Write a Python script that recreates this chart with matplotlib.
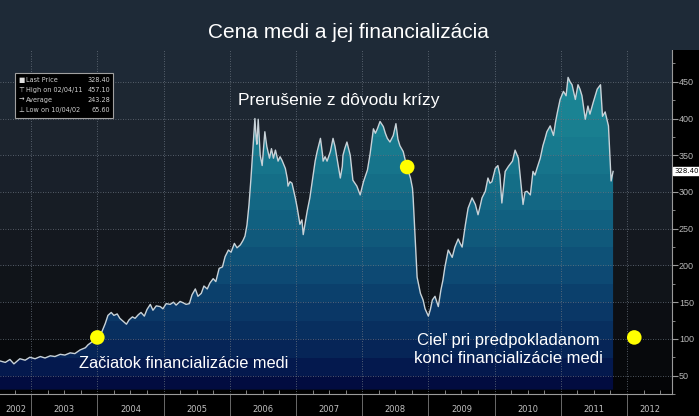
import numpy as np
import matplotlib
matplotlib.use("Agg")
import matplotlib.pyplot as plt
from matplotlib.colors import LinearSegmentedColormap
from matplotlib.patches import Polygon, Rectangle
from matplotlib.transforms import blended_transform_factory

plt.rcParams['font.family'] = ['Liberation Sans', 'DejaVu Sans']
NARROW = ['Liberation Sans Narrow', 'DejaVu Sans Condensed', 'DejaVu Sans']

# copper price (US cents / lb)
years = [2002.53, 2002.61, 2002.68, 2002.74, 2002.83, 2002.91, 2002.98, 2003.06, 2003.14, 2003.21,
         2003.29, 2003.36, 2003.44, 2003.51, 2003.59, 2003.66, 2003.74, 2003.82, 2003.86, 2003.92,
         2003.97, 2004.01, 2004.07, 2004.12, 2004.16, 2004.21, 2004.25, 2004.30, 2004.34, 2004.39,
         2004.44, 2004.48, 2004.53, 2004.57, 2004.62, 2004.66, 2004.71, 2004.75, 2004.80, 2004.84,
         2004.89, 2004.95, 2004.99, 2005.04, 2005.10, 2005.15, 2005.19, 2005.25, 2005.30, 2005.34,
         2005.39, 2005.43, 2005.48, 2005.52, 2005.57, 2005.61, 2005.66, 2005.70, 2005.75, 2005.79,
         2005.84, 2005.89, 2005.93, 2005.98, 2006.02, 2006.07, 2006.11, 2006.16, 2006.20, 2006.23,
         2006.26, 2006.29, 2006.32, 2006.35, 2006.38, 2006.40, 2006.41, 2006.43, 2006.46, 2006.49,
         2006.52, 2006.53, 2006.56, 2006.60, 2006.63, 2006.66, 2006.69, 2006.73, 2006.76, 2006.79,
         2006.84, 2006.87, 2006.88, 2006.91, 2006.94, 2006.99, 2007.02, 2007.06, 2007.09, 2007.11,
         2007.14, 2007.17, 2007.21, 2007.26, 2007.29, 2007.32, 2007.37, 2007.40, 2007.41, 2007.44,
         2007.47, 2007.52, 2007.56, 2007.59, 2007.62, 2007.67, 2007.70, 2007.71, 2007.74, 2007.77,
         2007.82, 2007.86, 2007.89, 2007.92, 2007.97, 2008.02, 2008.05, 2008.08, 2008.12, 2008.17,
         2008.20, 2008.23, 2008.27, 2008.32, 2008.35, 2008.38, 2008.42, 2008.47, 2008.51, 2008.54,
         2008.57, 2008.62, 2008.66, 2008.69, 2008.73, 2008.76, 2008.77, 2008.80, 2008.83, 2008.88,
         2008.92, 2008.95, 2009.00, 2009.03, 2009.06, 2009.10, 2009.15, 2009.19, 2009.22, 2009.25,
         2009.30, 2009.33, 2009.36, 2009.40, 2009.45, 2009.48, 2009.51, 2009.56, 2009.60, 2009.63,
         2009.66, 2009.71, 2009.75, 2009.78, 2009.81, 2009.86, 2009.90, 2009.93, 2009.96, 2010.01,
         2010.05, 2010.08, 2010.11, 2010.16, 2010.21, 2010.27, 2010.31, 2010.36, 2010.39, 2010.40,
         2010.43, 2010.46, 2010.49, 2010.54, 2010.58, 2010.61, 2010.64, 2010.69, 2010.73, 2010.76,
         2010.79, 2010.84, 2010.89, 2010.92, 2010.95, 2010.99, 2011.04, 2011.08, 2011.11, 2011.14,
         2011.17, 2011.22, 2011.26, 2011.29, 2011.32, 2011.37, 2011.41, 2011.44, 2011.49, 2011.55,
         2011.60, 2011.63, 2011.67, 2011.72, 2011.75, 2011.76, 2011.79]
prices = [70, 68, 72, 66, 73, 71, 75, 73, 76, 74,
          77, 76, 79, 78, 81, 80, 85, 88, 92, 96,
          100, 103, 110, 121, 132, 136, 132, 134, 128, 124,
          120, 126, 130, 128, 133, 136, 131, 140, 147, 139,
          145, 144, 141, 148, 147, 150, 146, 151, 149, 147,
          148, 160, 168, 158, 162, 172, 168, 176, 182, 178,
          196, 198, 212, 221, 218, 230, 224, 228, 234, 240,
          255, 282, 318, 360, 400, 372, 365, 399, 350, 336,
          370, 382, 362, 346, 359, 346, 357, 342, 348, 343,
          332, 318, 308, 314, 312, 292, 278, 256, 262, 242,
          258, 274, 292, 323, 342, 355, 373, 352, 342, 348,
          342, 355, 373, 362, 346, 319, 335, 350, 360, 368,
          350, 316, 312, 308, 296, 314, 322, 330, 352, 386,
          380, 386, 396, 389, 380, 373, 368, 377, 393, 372,
          363, 355, 340, 330, 319, 305, 292, 238, 184, 162,
          153, 141, 131, 140, 153, 158, 144, 167, 180, 198,
          221, 216, 211, 225, 236, 230, 225, 256, 278, 285,
          292, 283, 269, 280, 292, 301, 319, 312, 314, 332,
          336, 323, 285, 328, 335, 342, 357, 346, 319, 309,
          283, 300, 301, 296, 328, 323, 332, 346, 363, 372,
          382, 390, 377, 395, 409, 426, 437, 431, 456, 450,
          446, 426, 446, 440, 431, 399, 417, 406, 422, 440,
          446, 403, 409, 390, 332, 315, 328]

dot_years = [2004.0, 2008.68, 2012.11]
dot_prices = [102, 334, 102]

year_labels = list(range(2002, 2013))
y_ticks = [50, 100, 150, 200, 250, 300, 350, 400, 450]

legend_labels = ["Last Price", "High on 02/04/11", "Average", "Low on 10/04/02"]
legend_values = [328.40, 457.10, 243.28, 65.60]
legend_marks = ["\u25a0", "\u22a4", "\u2192", "\u22a5"]

x_lo, x_hi = 2002.53, 2012.68
y_lo, y_hi = 31, 496

fig = plt.figure(figsize=(6.99, 4.16), dpi=100, facecolor='black')
fig.patches.append(Rectangle((0, 0.88), 1, 0.12, transform=fig.transFigure,
                             facecolor='#1e2a37', edgecolor='none', zorder=0))
ax = fig.add_axes([0, 0.0529, 0.9614, 0.8317])
ax.set_facecolor('black')


def banded(cols, step):
    cmap = LinearSegmentedColormap.from_list('c', [((v - y_lo) / (y_hi - y_lo), c) for v, c in cols])
    yy = np.linspace(y_lo, y_hi, 800)
    band = np.floor(yy / step) * step + step / 2
    return cmap, np.tile(band[:, None], (1, 2))


bg_cmap, bg_img = banded([(31, '#040507'), (100, '#0a0c10'), (200, '#13171d'),
                          (300, '#191f28'), (400, '#1d2631'), (496, '#1f2b38')], 50)
ax.imshow(bg_img, extent=[x_lo, x_hi, y_lo, y_hi], origin='lower', aspect='auto',
          cmap=bg_cmap, vmin=y_lo, vmax=y_hi, interpolation='nearest', zorder=0)

fill_cmap, fill_img = banded([(31, '#020a3c'), (50, '#03134a'), (100, '#082c5c'),
                              (150, '#0b3c6a'), (200, '#0e4e76'), (250, '#115d7e'),
                              (300, '#146b86'), (350, '#17788d'), (400, '#1a8292'),
                              (496, '#1f8e9e')], 25)
im = ax.imshow(fill_img, extent=[x_lo, x_hi, y_lo, y_hi], origin='lower', aspect='auto',
               cmap=fill_cmap, vmin=y_lo, vmax=y_hi, interpolation='nearest', zorder=1)
verts = np.column_stack([np.r_[years[0], years, years[-1]], np.r_[y_lo, prices, y_lo]])
clip = Polygon(verts, closed=True, facecolor='none', edgecolor='none')
ax.add_patch(clip)
im.set_clip_path(clip)

ax.plot(years, prices, color='#c8d2d8', lw=1.0, zorder=4)
ax.scatter(dot_years, dot_prices, s=110, color='#ffff00', zorder=5, edgecolors='none')

ax.set_xlim(x_lo, x_hi)
ax.set_ylim(y_lo, y_hi)

# grid + axes
ax.set_xticks(year_labels[1:])
ax.set_xticks(np.arange(2002.75, 2012.7, 0.25), minor=True)
ax.set_xticklabels([])
ax.tick_params(axis='x', which='major', length=0)
ax.tick_params(axis='x', which='minor', direction='in', length=3, color='#9a9a9a')
ax.yaxis.tick_right()
ax.set_yticks(y_ticks)
ax.set_yticks(np.arange(25, 496, 25), minor=True)
ax.tick_params(axis='y', which='major', direction='out', length=4, pad=1,
               color='#9a9a9a', labelcolor='#b8b8b8', labelsize=6.5)
ax.tick_params(axis='y', which='minor', direction='out', length=2, color='#9a9a9a')
ax.grid(True, which='major', color='#6a7480', ls=(0, (1, 2)), lw=0.6, zorder=3)
ax.set_axisbelow(False)
for s in ['top', 'left']:
    ax.spines[s].set_visible(False)
for s in ['right', 'bottom']:
    ax.spines[s].set_color('#9a9a9a')
    ax.spines[s].set_linewidth(0.8)

# year labels in the strip below the axis
tr = blended_transform_factory(ax.transData, ax.transAxes)
for yr in year_labels:
    a, b = max(yr, x_lo), min(yr + 1, x_hi)
    ax.text((a + b) / 2, -0.045, str(yr), transform=tr, ha='center', va='center',
            fontsize=6, color='#c0c0c0', family=NARROW)
ax.vlines(year_labels[1:], -0.065, 0, transform=tr, colors='#6a6a6a', lw=0.7, clip_on=False)

# last price box
ax.annotate(f"{legend_values[0]:.2f}", xy=(1, legend_values[0]), xycoords=('axes fraction', 'data'),
            xytext=(1.5, 0), textcoords='offset points', va='center', ha='left', fontsize=5,
            color='black', family=NARROW,
            bbox=dict(boxstyle='square,pad=0.12', fc='white', ec='white'))

# annotations
ax.text(2007.65, 425, "Prerušenie z dôvodu krízy", ha='center', va='center', fontsize=12.5,
        color='white', zorder=6)
ax.text(2005.31, 66, "Začiatok financializácie medi", ha='center', va='center', fontsize=11.8,
        color='white', zorder=6)
ax.text(2010.21, 86, "Cieľ pri predpokladanom\nkonci financializácie medi", ha='center',
        va='center', fontsize=12, color='white', linespacing=1.25, zorder=6)

fig.text(0.499, 0.921, "Cena medi a jej financializácia", ha='center', va='center',
         fontsize=15, color='white')

# legend box
fig.patches.append(Rectangle((0.0215, 0.716), 0.140, 0.108, transform=fig.transFigure,
                             facecolor='black', edgecolor='#a0a0a0', lw=0.8, zorder=5))
for i, (m, lab, val) in enumerate(zip(legend_marks, legend_labels, legend_values)):
    yy = 0.807 - i * 0.0235
    fig.text(0.026, yy, m, fontsize=4.8, color='#e0e0e0', va='center', ha='left',
             family='DejaVu Sans', zorder=6)
    fig.text(0.037, yy, lab, fontsize=4.7, color='#d0d0d0', va='center', ha='left',
             family=NARROW, zorder=6)
    fig.text(0.158, yy, f"{val:.2f}", fontsize=4.7, color='#d0d0d0', va='center', ha='right',
             family=NARROW, zorder=6)

fig.savefig("out.png", dpi=100, facecolor=fig.get_facecolor())
